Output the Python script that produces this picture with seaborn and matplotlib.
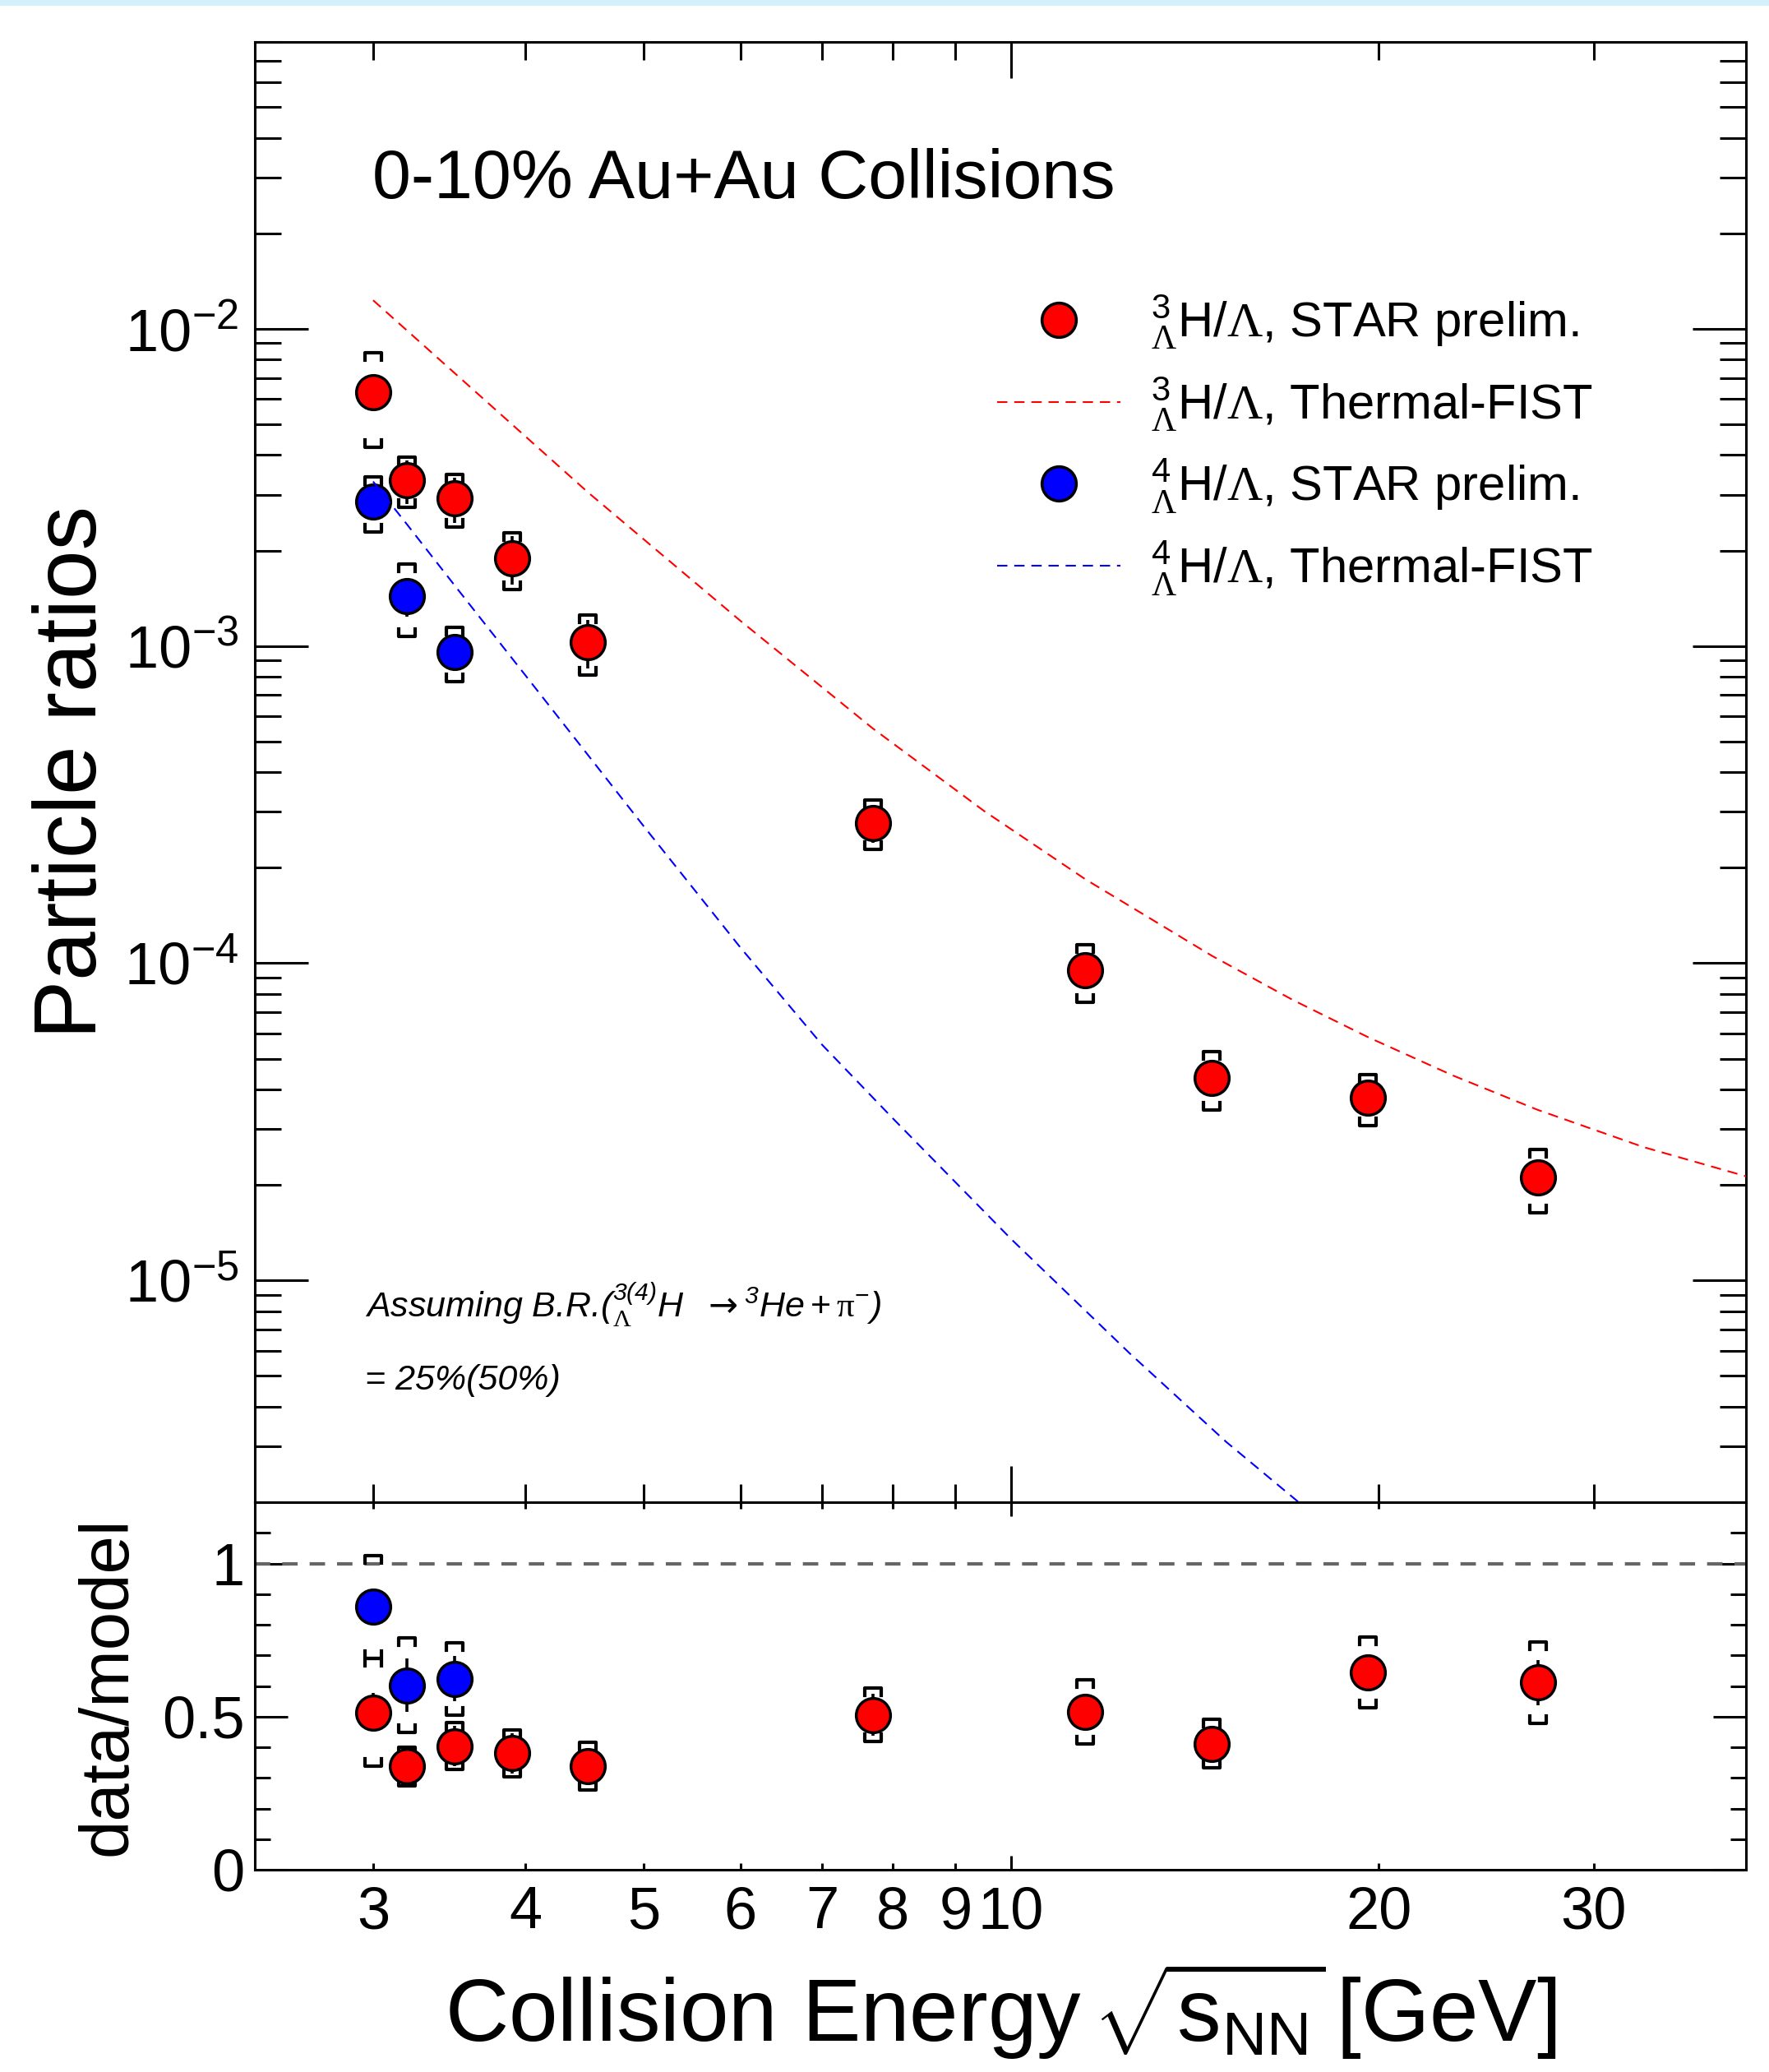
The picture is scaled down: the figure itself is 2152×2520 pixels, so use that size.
import numpy as np
import pandas as pd
import matplotlib
matplotlib.use("Agg")
import matplotlib.pyplot as plt
import seaborn as sns
from matplotlib.path import Path
from matplotlib.markers import MarkerStyle
from matplotlib.lines import Line2D
from matplotlib.patches import Rectangle
from matplotlib.ticker import (FixedLocator, FixedFormatter, NullFormatter,
                               LogLocator, LogFormatterSciNotation, MultipleLocator)

# ---------------- data ----------------
energy_h3 = [3.0, 3.2, 3.5, 3.9, 4.5, 7.7, 11.5, 14.6, 19.6, 27.0]
ratio_h3 = [6.32e-3, 3.33e-3, 2.92e-3, 1.89e-3, 1.03e-3, 2.77e-4, 9.5e-5, 4.35e-5, 3.77e-5, 2.11e-5]
stat_h3 = [0.79e-3, 0.52e-3, 0.47e-3, 0.33e-3, 0.18e-3, 0.38e-4, 0.6e-5, 0.42e-5, 0.18e-5, 0.25e-5]
sys_h3 = [2.1e-3, 0.6e-3, 0.55e-3, 0.38e-3, 0.22e-3, 4.9e-5, 1.95e-5, 0.9e-5, 0.69e-5, 0.48e-5]

energy_h4 = [3.0, 3.2, 3.5]
ratio_h4 = [2.85e-3, 1.44e-3, 9.58e-4]
stat_h4 = [0.3e-3, 0.2e-3, 0.115e-3]
sys_h4 = [0.56e-3, 0.37e-3, 0.185e-3]

model_energy_h3 = [3.0, 3.5, 4.5, 6.0, 7.7, 9.5, 11.5, 14.6, 17.0, 19.6, 23.0, 27.0, 33.0, 40.0]
model_h3 = [1.23e-2, 7.24e-3, 3.05e-3, 1.20e-3, 5.5e-4, 3.02e-4, 1.84e-4, 1.056e-4,
            7.67e-5, 5.85e-5, 4.43e-5, 3.45e-5, 2.63e-5, 2.13e-5]
model_energy_h4 = [3.0, 3.2, 3.5, 4.0, 4.5, 5.0, 6.0, 7.0, 8.0, 10.0, 12.5, 15.0, 17.2, 18.0]
model_h4 = [3.3e-3, 2.41e-3, 1.55e-3, 8.07e-4, 4.53e-4, 2.70e-4, 1.12e-4, 5.53e-5, 3.24e-5,
            1.35e-5, 5.9e-6, 3.1e-6, 2.0e-6, 1.7e-6]

dm_h3 = [0.514, 0.338, 0.404, 0.380, 0.338, 0.506, 0.516, 0.412, 0.644, 0.611]
dm_stat_h3 = [0.064, 0.053, 0.065, 0.066, 0.059, 0.069, 0.033, 0.04, 0.03, 0.073]
dm_sys_h3 = [0.175, 0.063, 0.076, 0.077, 0.077, 0.088, 0.104, 0.08, 0.115, 0.133]
dm_h4 = [0.858, 0.602, 0.623]
dm_stat_h4 = [0.05, 0.087, 0.074]
dm_sys_h4 = [0.168, 0.155, 0.118]

xtick_major = [10]
xtick_minor = [3, 4, 5, 6, 7, 8, 9, 20, 30]

# ---------------- style ----------------
sns.set_theme(style="ticks")
plt.rcParams.update({
    "font.family": ["Liberation Sans", "DejaVu Sans"],
    "mathtext.fontset": "custom",
    "mathtext.rm": "Liberation Sans",
    "mathtext.it": "Liberation Sans:italic",
    "mathtext.bf": "Liberation Sans:italic",
    "mathtext.sf": "Liberation Serif",
    "mathtext.tt": "DejaVu Sans",
    "axes.linewidth": 2.2,
    "axes.edgecolor": "black",
    "text.color": "black",
    "axes.labelcolor": "black",
    "xtick.color": "black",
    "ytick.color": "black",
})

RED = "#ff0000"
BLUE = "#0000ff"

fig = plt.figure(figsize=(21.52, 25.2), dpi=100)
fig.patch.set_facecolor("white")
fig.patches.append(Rectangle((0, 1 - 7 / 2520), 1, 7 / 2520, transform=fig.transFigure,
                             facecolor="#d4f1fb", edgecolor="none"))

L, W = 310 / 2152, 1814 / 2152
ax = fig.add_axes([L, 1 - 1827 / 2520, W, (1827 - 51.4) / 2520])
ax2 = fig.add_axes([L, 1 - 2274 / 2520, W, 447 / 2520], sharex=ax)

upper_br = MarkerStyle(Path([(-1, -0.9), (-1, 0), (1, 0), (1, -0.9)],
                            [Path.MOVETO, Path.LINETO, Path.LINETO, Path.LINETO]),
                       joinstyle="miter", capstyle="projecting")
lower_br = MarkerStyle(Path([(-1, 0.9), (-1, 0), (1, 0), (1, 0.9)],
                            [Path.MOVETO, Path.LINETO, Path.LINETO, Path.LINETO]),
                       joinstyle="miter", capstyle="projecting")


def draw_points(a, xs, ys, st, sy, color):
    xs = np.asarray(xs); ys = np.asarray(ys); st = np.asarray(st); sy = np.asarray(sy)
    a.errorbar(xs, ys, yerr=st, fmt="none", ecolor="black", elinewidth=2.6, capsize=0, zorder=3)
    a.plot(xs, ys + sy, ls="none", marker=upper_br, ms=14.0, mew=3.0, mec="black",
           mfc="none", zorder=3)
    a.plot(xs, ys - sy, ls="none", marker=lower_br, ms=14.0, mew=3.0, mec="black",
           mfc="none", zorder=3)
    df = pd.DataFrame({"x": xs, "y": ys})
    sns.scatterplot(data=df, x="x", y="y", ax=a, s=900, color=color, edgecolor="black",
                    linewidth=2.5, zorder=5, legend=False)


# ---------------- top panel ----------------
ax.set_xscale("log")
ax.set_yscale("log")
draw_points(ax, energy_h3, ratio_h3, stat_h3, sys_h3, RED)
draw_points(ax, energy_h4, ratio_h4, stat_h4, sys_h4, BLUE)

dfm3 = pd.DataFrame({"x": model_energy_h3, "y": model_h3})
dfm4 = pd.DataFrame({"x": model_energy_h4, "y": model_h4})
sns.lineplot(data=dfm3, x="x", y="y", ax=ax, color=RED, lw=1.5, sort=False,
             estimator=None, zorder=6, dashes=False)
sns.lineplot(data=dfm4, x="x", y="y", ax=ax, color=BLUE, lw=1.5, sort=False,
             estimator=None, zorder=6, dashes=False)
for ln in ax.get_lines()[-2:]:
    ln.set_linestyle((0, (6, 4)))

ax.set_xlim(2.4, 40.0)
ax.set_ylim(2e-6, 0.08)
ax.set_xlabel("")
ax.set_ylabel("Particle ratios", fontsize=77)
ax.yaxis.set_label_coords(-0.094, 0.5)

ax.xaxis.set_major_locator(FixedLocator(xtick_major))
ax.xaxis.set_minor_locator(FixedLocator(xtick_minor))
ax.xaxis.set_major_formatter(NullFormatter())
ax.xaxis.set_minor_formatter(NullFormatter())
ax.yaxis.set_major_locator(LogLocator(base=10, numticks=20))
ax.yaxis.set_minor_locator(LogLocator(base=10, subs=np.arange(2, 10), numticks=50))
ax.yaxis.set_major_formatter(LogFormatterSciNotation())
ax.yaxis.set_minor_formatter(NullFormatter())
ax.tick_params(axis="both", which="both", direction="in", top=True, right=True,
               width=2.2, labelsize=52, labelbottom=False)
ax.tick_params(axis="x", which="major", length=31.7)
ax.tick_params(axis="x", which="minor", length=15.8)
ax.tick_params(axis="y", which="major", length=46.8, pad=14)
ax.tick_params(axis="y", which="minor", length=23)

ax.text(0.0788, 0.8932, "0-10% Au+Au Collisions", transform=ax.transAxes,
        fontsize=60.8, va="baseline", ha="left")

ax.text(0.0736, 0.1267,
        r"Assuming B.R.(${}^{\mathbf{3(4)}}_{\mathsf{\Lambda}}H\ \ \mathtt{\rightarrow}{}^{\mathbf{3}}He + \mathsf{\pi}^{-}$)",
        transform=ax.transAxes, fontsize=31, style="italic", va="baseline", ha="left")
ax.text(0.0736, 0.0771, "= 25%(50%)", transform=ax.transAxes, fontsize=31,
        style="italic", va="baseline", ha="left")

handles = [
    Line2D([], [], ls="none", marker="o", ms=30, mfc=RED, mec="black", mew=2.6),
    Line2D([], [], color=RED, lw=1.5, ls=(0, (6, 4))),
    Line2D([], [], ls="none", marker="o", ms=30, mfc=BLUE, mec="black", mew=2.6),
    Line2D([], [], color=BLUE, lw=1.5, ls=(0, (6, 4))),
]
labels = [
    r"${}^{3}_{\mathsf{\Lambda}}$H/$\mathsf{\Lambda}$, STAR prelim.",
    r"${}^{3}_{\mathsf{\Lambda}}$H/$\mathsf{\Lambda}$, Thermal-FIST",
    r"${}^{4}_{\mathsf{\Lambda}}$H/$\mathsf{\Lambda}$, STAR prelim.",
    r"${}^{4}_{\mathsf{\Lambda}}$H/$\mathsf{\Lambda}$, Thermal-FIST",
]
ax.legend(handles, labels, loc="upper left", bbox_to_anchor=(0.498, 0.828),
          frameon=False, fontsize=43, handlelength=2.5, handletextpad=0.62,
          labelspacing=0.49, borderpad=0, borderaxespad=0)

# ---------------- bottom panel ----------------
ax2.axhline(1.0, color="#666666", lw=3.0, ls=(0, (4.5, 3.5)), zorder=2)
draw_points(ax2, energy_h3, dm_h3, dm_stat_h3, dm_sys_h3, RED)
draw_points(ax2, energy_h4, dm_h4, dm_stat_h4, dm_sys_h4, BLUE)
ax2.set_xscale("log")
ax2.set_xlim(2.4, 40.0)
ax2.set_ylim(0, 1.2)
ax2.xaxis.set_major_locator(FixedLocator(xtick_major))
ax2.xaxis.set_minor_locator(FixedLocator(xtick_minor))
ax2.xaxis.set_major_formatter(FixedFormatter([str(v) for v in xtick_major]))
ax2.xaxis.set_minor_formatter(FixedFormatter([str(v) for v in xtick_minor]))
ax2.yaxis.set_major_locator(FixedLocator([0, 0.5, 1.0]))
ax2.yaxis.set_major_formatter(FixedFormatter(["0", "0.5", "1"]))
ax2.yaxis.set_minor_locator(MultipleLocator(0.1))
ax2.tick_params(axis="both", which="both", direction="in", top=True, right=True,
                width=2.2, labelsize=52)
ax2.tick_params(axis="x", which="major", length=12, pad=14)
ax2.tick_params(axis="x", which="minor", length=6, pad=14)
ax2.tick_params(axis="y", which="major", length=29, pad=9)
ax2.tick_params(axis="y", which="minor", length=14)
ax2.set_ylabel("data/model", fontsize=60)
ax2.yaxis.set_label_coords(-0.077, 0.5)
ax2.set_xlabel(r"Collision Energy $\!\sqrt{\mathdefault{s}_{\mathdefault{NN}}}\,$[GeV]",
               fontsize=77)
ax2.xaxis.set_label_coords(0.5, -0.248)

for a in (ax, ax2):
    for s in a.spines.values():
        s.set_visible(True)
        s.set_linewidth(2.2)
        s.set_color("black")

fig.savefig("out.png", dpi=100, facecolor="white")
